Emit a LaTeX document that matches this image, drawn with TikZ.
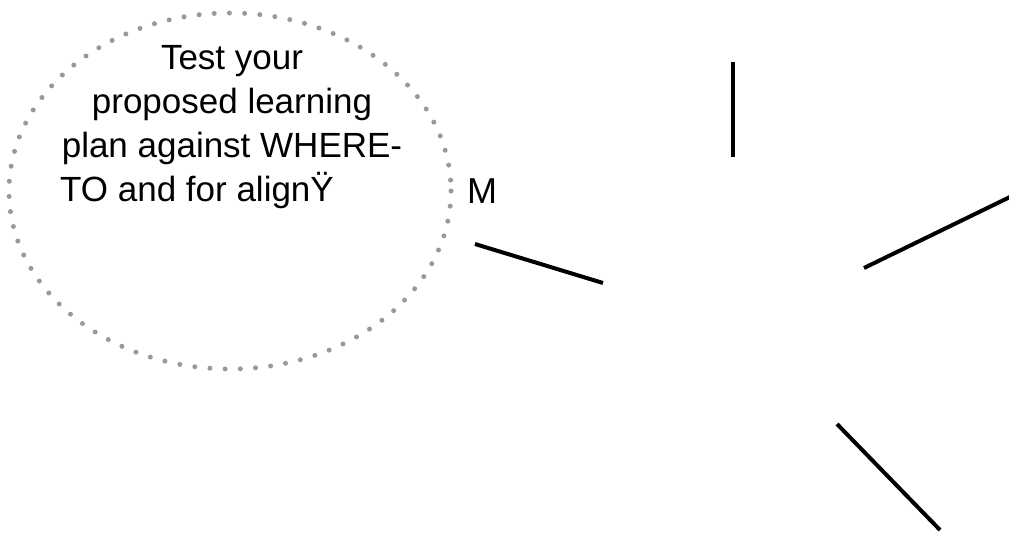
\documentclass[tikz,border=0pt]{standalone}
\usepackage{fontspec}
\setmainfont{Liberation Sans}
\usetikzlibrary{shapes.geometric}
\begin{document}
\begin{tikzpicture}[x=1pt,y=-1pt,
  bubble/.style={gray!80, line width=5pt, line cap=round, dash pattern=on 0pt off 15.2pt},
  bubbletext/.style={align=center, font=\fontsize{35}{44}\selectfont, inner sep=0pt},
  link/.style={line width=4pt, black}]
\useasboundingbox (0,0) rectangle (1009,533);
\draw[bubble] (230,191) ellipse [x radius=221, y radius=178];
\node[bubbletext, anchor=center] (txt) at (232,127) {Test your\\proposed learning\\plan against WHERE-\\TO and for alignŸ\hspace*{70pt}};
\node[font=\fontsize{36}{44}\selectfont, inner sep=0pt, anchor=base west] (m) at (467,203) {M};
\coordinate (a1) at (475,244);
\coordinate (a2) at (603,283);
\coordinate (b1) at (733,62);
\coordinate (b2) at (733,157);
\coordinate (c1) at (864,268);
\coordinate (c2) at (1012,196);
\coordinate (d1) at (837,424);
\coordinate (d2) at (940,530);
\draw[link] (a1) -- (a2);
\draw[link] (b1) -- (b2);
\draw[link] (c1) -- (c2);
\draw[link] (d1) -- (d2);
\end{tikzpicture}
\end{document}
